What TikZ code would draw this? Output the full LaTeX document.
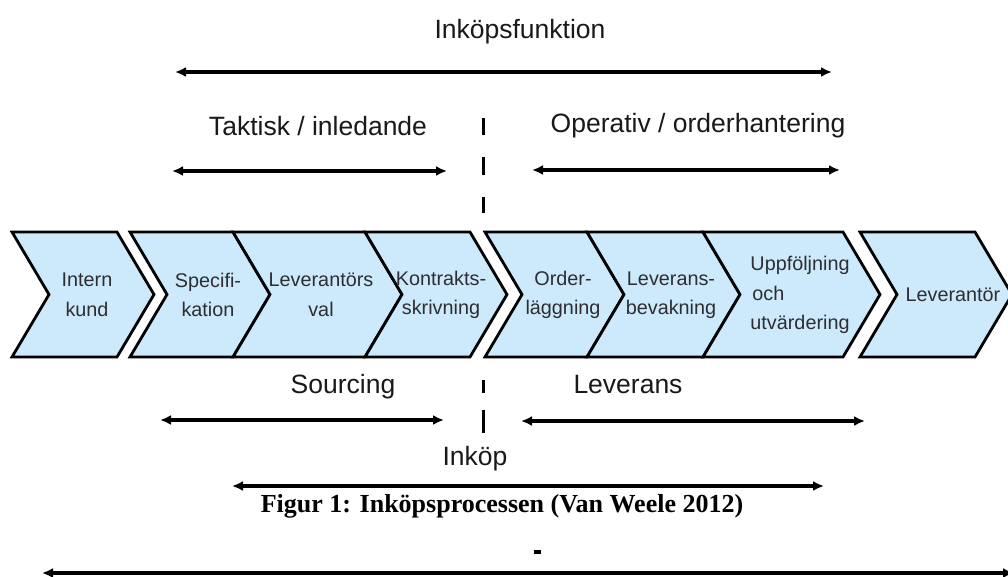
\documentclass[tikz,border=0pt]{standalone}
\usepackage{fontspec}
\setmainfont{Liberation Sans}
\newfontfamily\capfont{Liberation Serif}
\usetikzlibrary{arrows.meta}
\definecolor{chevfill}{RGB}{204,234,252}
\definecolor{chevtext}{RGB}{45,45,50}
\tikzset{
  chev/.style={draw=black, fill=chevfill, line width=2.8pt, line join=miter},
  chevlabel/.style={font=\fontsize{19.8}{29.5}\selectfont, text=chevtext, align=center, inner sep=0pt},
  lab/.style={font=\fontsize{26.5}{30}\selectfont, text=black!90, inner sep=0pt, anchor=base},
  spanarrow/.style={line width=3.2pt, {Latex[length=11pt,width=10pt]}-{Latex[length=11pt,width=10pt]}},
  divider/.style={line width=3pt},
}
\newcommand\chevshape[2]{\draw[chev] (#1,232) -- (#2,232) -- ({#2+37},294.5) -- (#2,357) -- (#1,357) -- ({#1+37},294.5) -- cycle;}
\begin{document}
\begin{tikzpicture}[x=1pt,y=-1pt]
\clip (0,0) rectangle (1008,576);
\fill[white] (0,0) rectangle (1008,576);

% chevrons
\chevshape{12}{117}
\chevshape{130}{233}
\chevshape{233}{365}
\chevshape{365}{470}
\chevshape{485}{587}
\chevshape{587}{703}
\chevshape{703}{843}
\chevshape{860}{975}

\node[chevlabel] (c1) at (87,295) {Intern\\kund};
\node[chevlabel] (c2) at (208,295) {Specifi-\\kation};
\node[chevlabel] (c3) at (321,295) {Leverantörs\\val};
\node[chevlabel] (c4) at (441,295) {Kontrakts-\\skrivning};
\node[chevlabel] (c5) at (563,295) {Order-\\läggning};
\node[chevlabel] (c6) at (671,295) {Leverans-\\bevakning};
\node[chevlabel, align=left] (c7) at (800,295) {Uppföljning\\\hspace{2pt}och\\utvärdering};
\node[chevlabel] (c8) at (953,295) {Leverantör};

% labels
\node[lab] (lfunk) at (520,38) {Inköpsfunktion};
\node[lab] (ltakt) at (318,135) {Taktisk / inledande};
\node[lab] (loper) at (698,132) {Operativ / orderhantering};
\node[lab] (lsourc) at (343,393) {Sourcing};
\node[lab] (llev) at (628,393) {Leverans};
\node[lab] (link) at (475,465) {Inköp};
\node[font=\capfont\bfseries\fontsize{26}{30}\selectfont, anchor=base, inner sep=0pt] (cap) at (502,512) {Figur 1: Inköpsprocessen (Van Weele 2012)};

% arrows
\coordinate (a1l) at (175,72);  \coordinate (a1r) at (832,72);
\coordinate (a2l) at (172,171); \coordinate (a2r) at (447,171);
\coordinate (a3l) at (532,170); \coordinate (a3r) at (840,170);
\coordinate (a4l) at (160,420); \coordinate (a4r) at (444,420);
\coordinate (a5l) at (521,421); \coordinate (a5r) at (865,421);
\coordinate (a6l) at (232,486); \coordinate (a6r) at (824,486);
\coordinate (a7l) at (42,573);  \coordinate (a7r) at (1014,573);
\draw[spanarrow] (a1l) -- (a1r);
\draw[spanarrow] (a2l) -- (a2r);
\draw[spanarrow] (a3l) -- (a3r);
\draw[spanarrow] (a4l) -- (a4r);
\draw[spanarrow] (a5l) -- (a5r);
\draw[spanarrow] (a6l) -- (a6r);
\draw[spanarrow] (a7l) -- (a7r);

% divider
\coordinate (d1a) at (483,118); \coordinate (d1b) at (483,135);
\coordinate (d2a) at (483,157); \coordinate (d2b) at (483,175);
\coordinate (d3a) at (483,197); \coordinate (d3b) at (483,213);
\coordinate (d4a) at (483,380); \coordinate (d4b) at (483,393);
\coordinate (d5a) at (483,410); \coordinate (d5b) at (483,433);
\draw[divider] (d1a) -- (d1b);
\draw[divider] (d2a) -- (d2b);
\draw[divider] (d3a) -- (d3b);
\draw[divider] (d4a) -- (d4b);
\draw[divider] (d5a) -- (d5b);

% small mark
\fill (534,550) rectangle (541,554);
\end{tikzpicture}
\end{document}
